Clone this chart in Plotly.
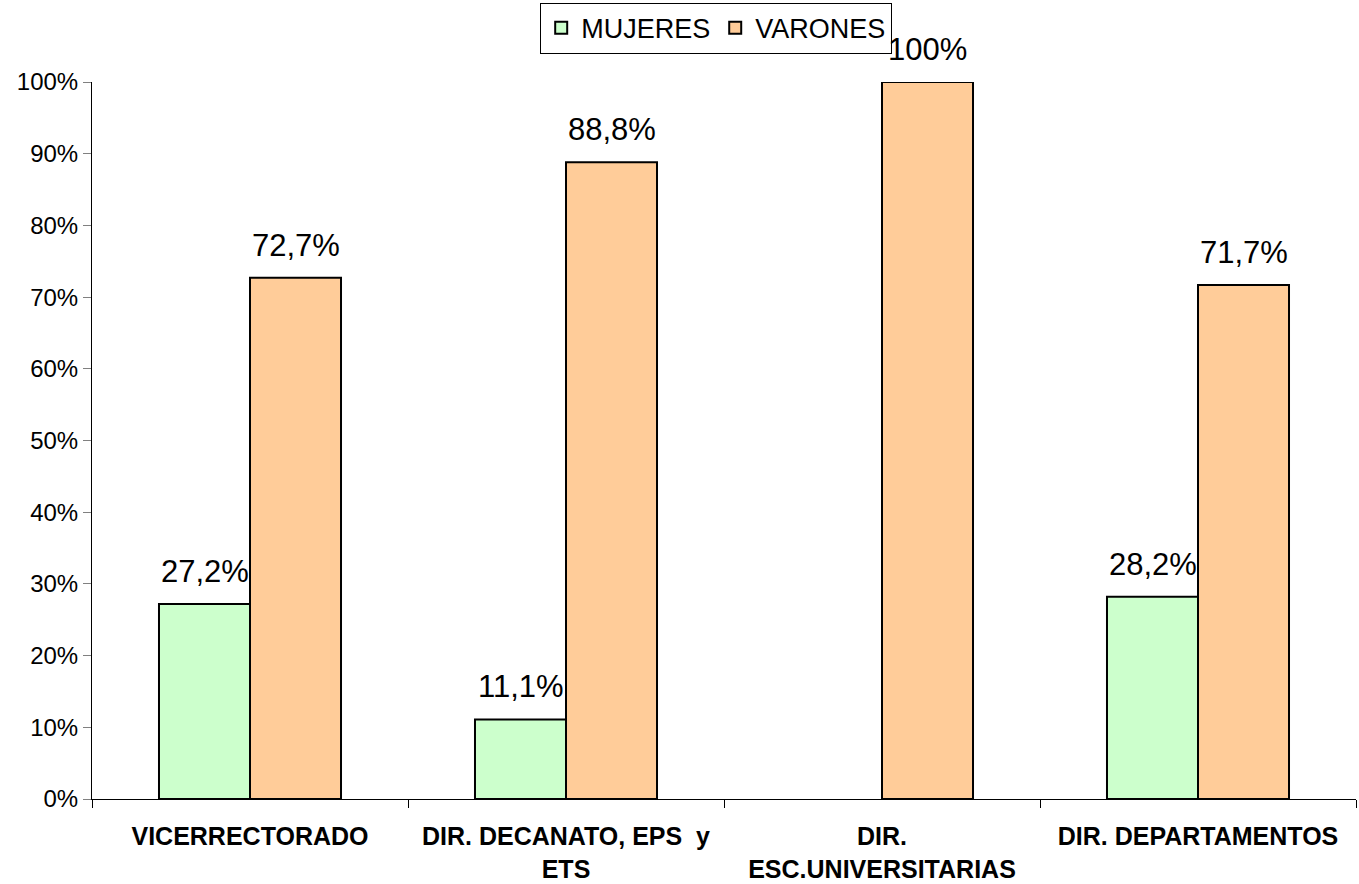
import plotly.graph_objects as go

categories = ["VICERRECTORADO", "DIR. DECANATO, EPS  y<br>ETS", "DIR.<br>ESC.UNIVERSITARIAS", "DIR. DEPARTAMENTOS"]
mujeres = [0.272, 0.111, None, 0.282]
varones = [0.727, 0.888, 1.0, 0.717]
mujeres_labels = ["27,2%", "11,1%", "", "28,2%"]
varones_labels = ["72,7%", "88,8%", "100%", "71,7%"]
ytick_vals = [0, 0.1, 0.2, 0.3, 0.4, 0.5, 0.6, 0.7, 0.8, 0.9, 1.0]
ytick_text = ["0%", "10%", "20%", "30%", "40%", "50%", "60%", "70%", "80%", "90%", "100%"]

fig = go.Figure()
fig.add_trace(go.Bar(
    x=categories, y=mujeres, name="MUJERES",
    marker=dict(color="#CCFFCC", line=dict(color="black", width=2)),
    cliponaxis=False,
))
fig.add_trace(go.Bar(
    x=categories, y=varones, name="VARONES",
    marker=dict(color="#FFCC99", line=dict(color="black", width=2)),
    cliponaxis=False,
))

# value labels above bars (offset left/right within each category group)
annotations = []
for cat, val, lab in zip(categories, mujeres, mujeres_labels):
    if val is not None and lab:
        annotations.append(dict(x=cat, y=val, text=lab, xshift=-45.5, yshift=13,
                                xanchor="center", yanchor="bottom", showarrow=False,
                                font=dict(family="Arial", size=31, color="black")))
for cat, val, lab in zip(categories, varones, varones_labels):
    if val is not None and lab:
        annotations.append(dict(x=cat, y=val, text=lab, xshift=45.5, yshift=13,
                                xanchor="center", yanchor="bottom", showarrow=False,
                                font=dict(family="Arial", size=31, color="black")))

fig.update_layout(
    width=1359, height=884,
    margin=dict(l=92, r=3, t=82, b=85, autoexpand=False),
    plot_bgcolor="white", paper_bgcolor="white",
    barmode="group", bargap=0.424, bargroupgap=0,
    font=dict(family="Arial", color="black"),
    showlegend=True,
    legend=dict(
        orientation="h", xref="container", x=0.527, xanchor="center",
        yref="container", y=0.997, yanchor="top",
        bordercolor="black", borderwidth=1,
        font=dict(family="Arial", size=27, color="black"),
        tracegroupgap=0,
    ),
    annotations=annotations,
)
fig.update_xaxes(
    automargin=False,
    showline=True, linecolor="black", linewidth=1,
    ticks="outside", tickson="boundaries", ticklen=8, tickcolor="black",
    tickfont=dict(family="Arial", size=25, color="black", weight="bold"),
    ticklabelstandoff=15,
    showgrid=False,
)
fig.update_yaxes(
    automargin=False,
    range=[0, 1], tickvals=ytick_vals, ticktext=ytick_text,
    showline=True, linecolor="black", linewidth=1,
    ticks="outside", ticklen=8, tickcolor="gray",
    tickfont=dict(family="Arial", size=24, color="black"),
    showgrid=False, zeroline=False,
)

fig.write_html("out.html", config={"displayModeBar": False},
               post_script="document.body.style.margin='0';document.body.style.overflow='hidden';")
